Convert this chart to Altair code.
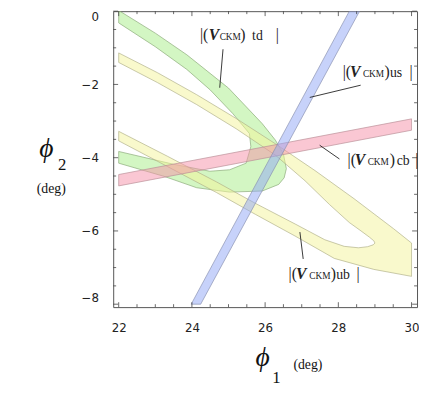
import altair as alt
import pandas as pd

W, H = 309, 301
X_DOMAIN = [21.85, 30.15]
Y_DOMAIN = [-8.08, 0.0]

x_major = [22, 24, 26, 28, 30]
y_major = [-8, -6, -4, -2, 0]
x_minor = [22.5, 23, 23.5, 24.5, 25, 25.5, 26.5, 27, 27.5, 28.5, 29, 29.5]
y_minor = [-7.5, -7, -6.5, -5.5, -5, -4.5, -3.5, -3, -2.5, -1.5, -1, -0.5]

# |V_us| band (blue)
us_x = [23.98, 28.30, 28.58, 24.24, 23.98]
us_y = [-8.0, 0.0, 0.0, -8.0, -8.0]
# |V_cb| band (red)
cb_x = [22, 30, 30, 22, 22]
cb_y = [-4.46, -2.94, -3.25, -4.77, -4.46]
# |V_ub| band (yellow)
ub_outer_upper_x = [22.00, 23.06, 24.13, 25.21, 26.28, 27.36, 28.43, 29.51, 30.00]
ub_outer_upper_y = [-1.14, -1.68, -2.28, -2.93, -3.62, -4.35, -5.12, -5.94, -6.33]
ub_outer_lower_x = [30.00, 28.97, 27.89, 26.82, 25.74, 24.67, 23.33, 22.00]
ub_outer_lower_y = [-7.24, -7.05, -6.75, -6.14, -5.55, -4.95, -4.24, -3.54]
ub_inner_lower_x = [22.00, 23.33, 24.67, 25.74, 26.82, 27.63, 28.16, 28.55, 28.80, 28.95, 29.00]
ub_inner_lower_y = [-3.28, -3.96, -4.66, -5.25, -5.81, -6.24, -6.42, -6.46, -6.43, -6.38, -6.33]
ub_inner_upper_x = [28.97, 28.85, 28.62, 28.30, 27.76, 27.09, 26.28, 25.21, 24.13, 23.06, 22.00, 22.00]
ub_inner_upper_y = [-6.27, -6.17, -6.00, -5.77, -5.28, -4.63, -3.93, -3.21, -2.55, -1.95, -1.40, -1.14]
# |V_td| band (green)
td_outer_x = [22, 23, 23.86, 25, 25.92, 26.28, 26.5, 26.58, 26.52, 26.37, 25.92, 25.03, 24.13, 23.24, 22]
td_outer_y = [0.02, -0.60, -1.19, -2.10, -3.07, -3.52, -3.90, -4.30, -4.55, -4.73, -4.91, -4.94, -4.82, -4.51, -4.15]
td_inner_x = [22, 23.5, 24.49, 25.03, 25.48, 25.61, 25.57, 25.12, 24.5, 23.86, 23, 22, 22]
td_inner_y = [-3.83, -4.18, -4.37, -4.33, -4.15, -3.70, -3.34, -2.80, -2.15, -1.59, -0.97, -0.32, 0.02]

# labels |(V_CKM) xx| : start x, baseline y, subscript
label_names = ["td", "us", "cb", "ub"]
label_x = [24.22, 28.12, 28.25, 26.64]
label_y = [-0.792, -1.799, -4.188, -7.302]
v_dx = [9, 7.5, 7.5, 7.5]
ckm_dx = [20, 20.5, 20.5, 21]
paren_dx = [41, 42.5, 43, 43]
sub_dx = [53, 48, 50, 48.5]
close_dx = [77, 68, 69, 69]
# pointer lines
ptr_x1 = [24.85, 28.61, 27.49, 26.95]
ptr_y1 = [-1.039, -2.021, -3.66, -6.03]
ptr_x2 = [24.76, 27.22, 28.03, 27.04]
ptr_y2 = [-2.09, -2.355, -4.035, -6.765]

xs = alt.Scale(domain=X_DOMAIN, nice=False, zero=False)
ys = alt.Scale(domain=Y_DOMAIN, nice=False, zero=False)
xaxis = alt.Axis(values=x_major, ticks=False, tickSize=0, domain=False, grid=False,
                 labelFont="DejaVu Sans", labelFontSize=12, labelColor="#222",
                 labelPadding=16, title=None, format="d")
yaxis = alt.Axis(values=y_major, ticks=False, tickSize=0, domain=False, grid=False,
                 labelFont="DejaVu Sans", labelFontSize=12, labelColor="#222",
                 labelPadding=15, title=None, format="d",
                 labelBaseline={"condition": [{"test": "datum.value == 0", "value": "top"},
                                              {"test": "datum.value == -8", "value": "bottom"}],
                                "value": "middle"})


def X(f):
    return alt.X(f, type="quantitative", scale=xs, axis=xaxis)


def Y(f):
    return alt.Y(f, type="quantitative", scale=ys, axis=yaxis)


def poly(xv, yv, fill, stroke):
    df = pd.DataFrame({"i": list(range(len(xv))), "x": xv, "y": yv})
    return alt.Chart(df).mark_line(
        fill=fill, fillOpacity=0.5, stroke=stroke, strokeWidth=0.8, strokeOpacity=0.85,
        interpolate="linear", clip=True
    ).encode(x=X("x"), y=Y("y"), order="i:Q")


layers = []
layers.append(poly(td_outer_x + td_inner_x, td_outer_y + td_inner_y, "#a8ee88", "#8aa878"))
layers.append(poly(ub_outer_upper_x + ub_outer_lower_x + ub_inner_lower_x + ub_inner_upper_x,
                   ub_outer_upper_y + ub_outer_lower_y + ub_inner_lower_y + ub_inner_upper_y,
                   "#f4f49a", "#b0b088"))
layers.append(poly(cb_x, cb_y, "#f590a8", "#b89098"))
layers.append(poly(us_x, us_y, "#8fa5f5", "#8890b0"))


# frame ticks (inward)
def ticks_x(vals, ln, top):
    df = pd.DataFrame({"v": vals})
    if top:
        return alt.Chart(df).mark_rule(color="#444", strokeWidth=0.8).encode(
            x=X("v"), y=alt.value(0), y2=alt.value(ln))
    return alt.Chart(df).mark_rule(color="#444", strokeWidth=0.8).encode(
        x=X("v"), y=alt.value(H), y2=alt.value(H - ln))


def ticks_y(vals, ln, right):
    df = pd.DataFrame({"v": vals})
    if right:
        return alt.Chart(df).mark_rule(color="#444", strokeWidth=0.8).encode(
            y=Y("v"), x=alt.value(W), x2=alt.value(W - ln))
    return alt.Chart(df).mark_rule(color="#444", strokeWidth=0.8).encode(
        y=Y("v"), x=alt.value(0), x2=alt.value(ln))


for top in (False, True):
    layers.append(ticks_x(x_major, 5, top))
    layers.append(ticks_x(x_minor, 3, top))
for right in (False, True):
    layers.append(ticks_y(y_major, 5, right))
    layers.append(ticks_y(y_minor, 3, right))

# pointer lines
ptr_df = pd.DataFrame({"x": ptr_x1, "y": ptr_y1, "x2": ptr_x2, "y2": ptr_y2})
layers.append(alt.Chart(ptr_df).mark_rule(color="#222", strokeWidth=0.9).encode(
    x=X("x"), y=Y("y"), x2="x2:Q", y2="y2:Q"))

# band labels
serif = "Liberation Serif"
for k in range(len(label_names)):
    one = alt.Chart(pd.DataFrame({"x": [label_x[k]], "y": [label_y[k]], "sub": [label_names[k]]}))
    common = dict(font=serif, align="left", baseline="alphabetic", color="#222")
    layers.append(one.mark_text(text="|(", fontSize=16, **common).encode(x=X("x"), y=Y("y")))
    layers.append(one.mark_text(text="V", fontSize=16, fontStyle="italic", fontWeight="bold",
                                dx=v_dx[k], **common).encode(x=X("x"), y=Y("y")))
    layers.append(one.mark_text(text="CKM", fontSize=9.5, dx=ckm_dx[k], **common).encode(x=X("x"), y=Y("y")))
    layers.append(one.mark_text(text=")", fontSize=16, dx=paren_dx[k], **common).encode(x=X("x"), y=Y("y")))
    layers.append(one.mark_text(fontSize=14, dx=sub_dx[k], **common).encode(x=X("x"), y=Y("y"), text="sub:N"))
    layers.append(one.mark_text(text="|", fontSize=16, dx=close_dx[k], **common).encode(x=X("x"), y=Y("y")))


# axis titles
def title_text(t, px, py, size, italic=False):
    return alt.Chart(pd.DataFrame({"t": [t]})).mark_text(
        font=serif, fontSize=size, fontStyle="italic" if italic else "normal",
        align="center", baseline="middle", color="#111"
    ).encode(text="t:N", x=alt.value(px), y=alt.value(py))


layers.append(title_text("ϕ", -68, 140, 28, True))
layers.append(title_text("2", -52, 157, 17))
layers.append(title_text("(deg)", -63, 181, 14))
layers.append(title_text("ϕ", 152, 353, 28, True))
layers.append(title_text("1", 166, 373, 17))
layers.append(title_text("(deg)", 198, 360, 14))

chart = alt.layer(*layers).properties(
    width=W, height=H, autosize="none",
    padding={"left": 107, "top": 0, "right": 2, "bottom": 78}
).configure_view(stroke="#555", strokeWidth=1)

chart.save("out.html", embed_options={"renderer": "svg", "actions": False})
